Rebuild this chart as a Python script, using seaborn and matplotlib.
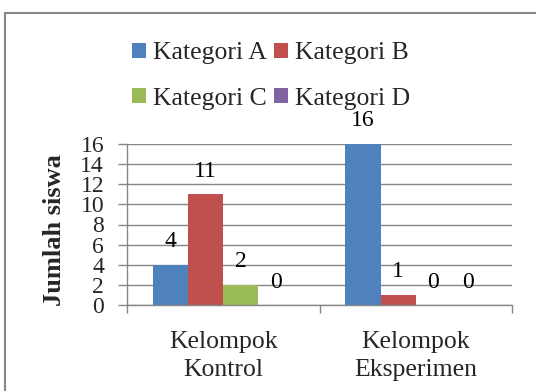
import matplotlib
matplotlib.use("Agg")
import matplotlib.pyplot as plt
import seaborn as sns
import pandas as pd
from matplotlib.patches import Rectangle

groups = ["Kelompok\nKontrol", "Kelompok\nEksperimen"]
categories = ["Kategori A", "Kategori B", "Kategori C", "Kategori D"]
kat_a = [4, 16]
kat_b = [11, 1]
kat_c = [2, 0]
kat_d = [0, 0]
colors = ["#4F81BD", "#C0504D", "#9BBB59", "#8064A2"]
y_ticks = [0, 2, 4, 6, 8, 10, 12, 14, 16]

rows = []
for cat, vals in zip(categories, [kat_a, kat_b, kat_c, kat_d]):
    for g, v in zip(groups, vals):
        rows.append({"Kelompok": g, "Kategori": cat, "Jumlah": v})
df = pd.DataFrame(rows)

FS = 17
FL = 18.5
sns.set_theme(style="white")
plt.rcParams["font.family"] = "serif"
plt.rcParams["font.serif"] = ["Liberation Serif", "DejaVu Serif"]
plt.rcParams["font.size"] = FS

fig = plt.figure(figsize=(5.36, 3.91), dpi=100)
ax = fig.add_axes([127/536, 1-305/391, (512-127)/536, (305-144)/391])

sns.barplot(data=df, x="Kelompok", y="Jumlah", hue="Kategori",
            hue_order=categories, palette=colors, width=0.73,
            saturation=1, ax=ax, legend=True, linewidth=0)

for cont in ax.containers:
    ax.bar_label(cont, padding=9, fontsize=FS, color="black")

ax.set_xlim(-0.5, 1.5)
ax.set_ylim(0, 16)
ax.set_yticks(y_ticks)
ax.set_yticklabels([str(t) for t in y_ticks], fontsize=FS)
ax.yaxis.grid(True, color="#868686", linewidth=1)
ax.set_axisbelow(True)
ax.tick_params(axis="y", length=6.5, width=1, color="#868686", pad=10, direction="out", left=True)
ax.tick_params(axis="x", which="major", length=0, pad=18.5, labelsize=FL)
ax.set_xticks([-0.5, 0.5, 1.5], minor=True)
ax.tick_params(axis="x", which="minor", length=6, width=1, color="#868686", direction="out", bottom=True)
for lab in ax.get_xticklabels():
    lab.set_linespacing(1.4)

for s in ["top", "right"]:
    ax.spines[s].set_visible(False)
for s in ["left", "bottom"]:
    ax.spines[s].set_color("#868686")
    ax.spines[s].set_linewidth(1)

ax.set_xlabel("")
ax.set_ylabel("")
fig.text(55/536, 1-230/391, "Jumlah siswa", rotation=90, ha="center", va="center",
         fontsize=19, fontweight="bold")

handles, labels = ax.get_legend_handles_labels()
ax.get_legend().remove()
order = [0, 2, 1, 3]
fig.legend([handles[i] for i in order], [labels[i] for i in order], ncol=2, loc="center",
           bbox_to_anchor=(271/536, 1-76/391),
           frameon=False, fontsize=FL, handlelength=0.55, handleheight=0.55,
           handletextpad=0.25, columnspacing=0.3, labelspacing=0.9)

fig.patches.append(Rectangle((5/536, -0.1), 1.2, 1-13/391+0.1, transform=fig.transFigure,
                             fill=False, edgecolor="#868686", linewidth=1.5))

fig.savefig("out.png", dpi=100)
